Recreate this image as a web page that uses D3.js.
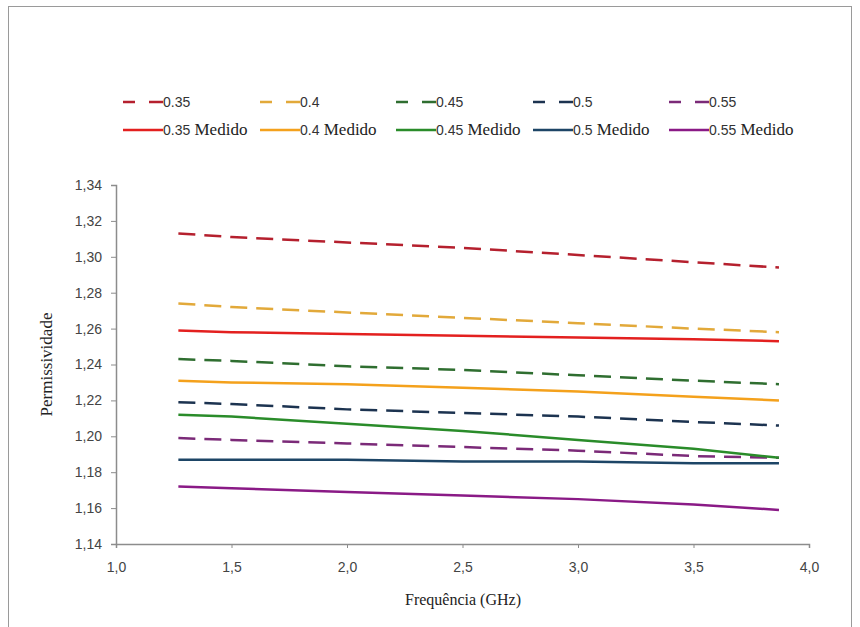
<!DOCTYPE html>
<html>
<head>
<meta charset="utf-8">
<script src="https://cdn.jsdelivr.net/npm/d3@7"></script>
<style>
  body { margin: 0; background: #fff; }
</style>
</head>
<body>
<div id="graph"></div>
<script>

var freqs = [1.27, 1.5, 2.0, 2.5, 3.0, 3.5, 3.87];

// simulated (dashed)
var sim035 = [1.313, 1.311, 1.308, 1.305, 1.301, 1.297, 1.294];
var sim040 = [1.274, 1.272, 1.269, 1.266, 1.263, 1.260, 1.258];
var sim045 = [1.243, 1.242, 1.239, 1.237, 1.234, 1.231, 1.229];
var sim050 = [1.219, 1.218, 1.215, 1.213, 1.211, 1.208, 1.206];
var sim055 = [1.199, 1.198, 1.196, 1.194, 1.192, 1.189, 1.188];

// measured (solid)
var med035 = [1.259, 1.258, 1.257, 1.256, 1.255, 1.254, 1.253];
var med040 = [1.231, 1.230, 1.229, 1.227, 1.225, 1.222, 1.220];
var med045 = [1.212, 1.211, 1.207, 1.203, 1.198, 1.193, 1.188];
var med050 = [1.187, 1.187, 1.187, 1.186, 1.186, 1.185, 1.185];
var med055 = [1.172, 1.171, 1.169, 1.167, 1.165, 1.162, 1.159];

var names = ["0.35", "0.4", "0.45", "0.5", "0.55"];
var xTicks = [1.0, 1.5, 2.0, 2.5, 3.0, 3.5, 4.0];
var yTicks = [1.14, 1.16, 1.18, 1.20, 1.22, 1.24, 1.26, 1.28, 1.30, 1.32, 1.34];

var simColors = ["#b5202e", "#e2a93a", "#2f6e30", "#1c3350", "#7b2a78"];
var medColors = ["#e3201f", "#f4a11c", "#2a8c2a", "#1d4566", "#8a1a86"];

var series = [
  { name: names[0], vals: sim035, color: simColors[0], dash: true },
  { name: names[1], vals: sim040, color: simColors[1], dash: true },
  { name: names[2], vals: sim045, color: simColors[2], dash: true },
  { name: names[3], vals: sim050, color: simColors[3], dash: true },
  { name: names[4], vals: sim055, color: simColors[4], dash: true },
  { name: names[0], vals: med035, color: medColors[0], dash: false },
  { name: names[1], vals: med040, color: medColors[1], dash: false },
  { name: names[2], vals: med045, color: medColors[2], dash: false },
  { name: names[3], vals: med050, color: medColors[3], dash: false },
  { name: names[4], vals: med055, color: medColors[4], dash: false }
];

var W = 860, H = 627;
var plot = { left: 116, right: 809, top: 185, bottom: 544 };

var svg = d3.select("#graph")
  .append("svg")
  .attr("width", W)
  .attr("height", H);

// outer frame
svg.append("rect")
  .attr("x", 8.5).attr("y", 6.5)
  .attr("width", 843).attr("height", 640)
  .attr("fill", "none")
  .attr("stroke", "#9a9a9a")
  .attr("stroke-width", 1);

var xScale = d3.scaleLinear().domain([1.0, 4.0]).range([plot.left, plot.right]);
var yScale = d3.scaleLinear().domain([1.14, 1.34]).range([plot.bottom, plot.top]);

var fmtX = function (d) { return d3.format(".1f")(d).replace(".", ","); };
var fmtY = function (d) { return d3.format(".2f")(d).replace(".", ","); };

// x axis
svg.append("g").attr("class", "x axis")
  .attr("transform", "translate(0," + plot.bottom + ")")
  .call(d3.axisBottom(xScale).tickValues(xTicks).tickFormat(fmtX).tickSize(4).tickPadding(14));

// y axis
svg.append("g").attr("class", "y axis")
  .attr("transform", "translate(" + plot.left + ",0)")
  .call(d3.axisLeft(yScale).tickValues(yTicks).tickFormat(fmtY).tickSize(5).tickPadding(9));

svg.selectAll(".axis path").attr("stroke", "#8c8c8c").attr("stroke-width", 1.5);
svg.selectAll(".axis line").attr("stroke", "#8c8c8c");
svg.selectAll(".axis text")
  .attr("fill", "#444")
  .style("font-family", "'Liberation Sans', Arial, sans-serif")
  .style("font-size", "14px");

// axis titles
svg.append("text")
  .attr("transform", "translate(52," + ((plot.top + plot.bottom) / 2) + "),rotate(-90)")
  .style("text-anchor", "middle")
  .style("font-family", "'Liberation Serif', 'Times New Roman', serif")
  .style("font-size", "17px")
  .attr("fill", "#222")
  .text("Permissividade");

svg.append("text")
  .attr("x", 463).attr("y", 605)
  .style("text-anchor", "middle")
  .style("font-family", "'Liberation Serif', 'Times New Roman', serif")
  .style("font-size", "16px")
  .attr("fill", "#222")
  .text("Frequência (GHz)");

// lines
var line = d3.line()
  .x(function (d) { return xScale(d[0]); })
  .y(function (d) { return yScale(d[1]); });

series.forEach(function (s) {
  svg.append("path")
    .datum(freqs.map(function (f, i) { return [f, s.vals[i]]; }))
    .attr("fill", "none")
    .attr("stroke", s.color)
    .attr("stroke-width", 2.5)
    .attr("stroke-dasharray", s.dash ? "17,9" : null)
    .attr("d", line);
});

// legend
var legX = [123, 260, 396, 533, 669];
var legY = [102, 130];

series.forEach(function (s, i) {
  var col = i % 5, row = s.dash ? 0 : 1;
  var g = svg.append("g").attr("transform", "translate(" + legX[col] + "," + legY[row] + ")");
  g.append("line")
    .attr("x1", 0).attr("x2", 40)
    .attr("y1", 0).attr("y2", 0)
    .attr("stroke", s.color)
    .attr("stroke-width", 2.5)
    .attr("stroke-dasharray", s.dash ? "12,14,14" : null);
  var t = g.append("text")
    .attr("x", 40).attr("y", 5)
    .attr("fill", "#333");
  t.append("tspan")
    .style("font-family", "'Liberation Sans', Arial, sans-serif")
    .style("font-size", "14px")
    .text(s.name);
  if (!s.dash) {
    t.append("tspan")
      .style("font-family", "'Liberation Serif', 'Times New Roman', serif")
      .style("font-size", "17px")
      .attr("fill", "#222")
      .text(" Medido");
  }
});

</script>
</body>
</html>
